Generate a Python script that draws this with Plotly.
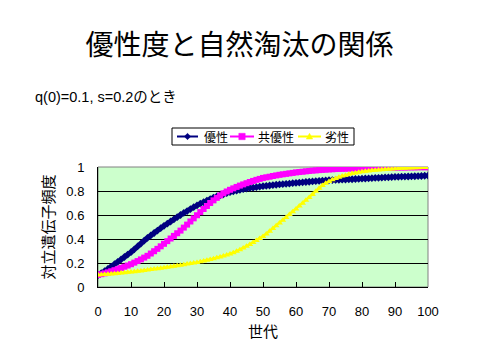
import plotly.graph_objects as go

generations = list(range(0, 101))

dominant = [
    0.100, 0.115, 0.132, 0.150, 0.170, 0.190, 0.210, 0.230, 0.250, 0.270,
    0.290, 0.314, 0.338, 0.362, 0.386, 0.410, 0.430, 0.450, 0.470, 0.490,
    0.510, 0.528, 0.546, 0.564, 0.582, 0.600, 0.617, 0.633, 0.649, 0.665,
    0.680, 0.694, 0.707, 0.720, 0.733, 0.745, 0.755, 0.764, 0.773, 0.782,
    0.790, 0.797, 0.803, 0.809, 0.815, 0.820, 0.824, 0.828, 0.832, 0.836,
    0.840, 0.843, 0.846, 0.849, 0.852, 0.855, 0.857, 0.860, 0.862, 0.865,
    0.867, 0.870, 0.872, 0.875, 0.877, 0.880, 0.882, 0.884, 0.886, 0.888,
    0.890, 0.891, 0.892, 0.893, 0.894, 0.895, 0.897, 0.898, 0.900, 0.901,
    0.903, 0.904, 0.906, 0.907, 0.909, 0.910, 0.911, 0.913, 0.914, 0.916,
    0.917, 0.918, 0.919, 0.920, 0.921, 0.922, 0.923, 0.924, 0.925, 0.927,
    0.928,
]

codominant = [
    0.100, 0.107, 0.114, 0.122, 0.131, 0.140, 0.149, 0.159, 0.169, 0.179,
    0.190, 0.203, 0.216, 0.230, 0.245, 0.260, 0.279, 0.298, 0.318, 0.339,
    0.360, 0.382, 0.404, 0.426, 0.448, 0.470, 0.495, 0.520, 0.546, 0.572,
    0.598, 0.624, 0.650, 0.675, 0.700, 0.722, 0.743, 0.763, 0.781, 0.796,
    0.810, 0.822, 0.834, 0.845, 0.855, 0.865, 0.875, 0.884, 0.893, 0.901,
    0.909, 0.914, 0.919, 0.925, 0.930, 0.935, 0.939, 0.943, 0.947, 0.951,
    0.955, 0.958, 0.961, 0.964, 0.967, 0.970, 0.972, 0.974, 0.976, 0.978,
    0.980, 0.981, 0.983, 0.984, 0.985, 0.986, 0.987, 0.988, 0.989, 0.989,
    0.990, 0.991, 0.991, 0.992, 0.992, 0.993, 0.993, 0.994, 0.994, 0.995,
    0.995, 0.996, 0.996, 0.996, 0.997, 0.997, 0.997, 0.998, 0.998, 0.998,
    0.998,
]

recessive = [
    0.100, 0.102, 0.104, 0.106, 0.108, 0.111, 0.113, 0.116, 0.119, 0.122,
    0.125, 0.128, 0.131, 0.134, 0.138, 0.141, 0.145, 0.149, 0.152, 0.156,
    0.160, 0.164, 0.168, 0.172, 0.177, 0.181, 0.186, 0.191, 0.195, 0.200,
    0.205, 0.211, 0.217, 0.223, 0.229, 0.236, 0.243, 0.251, 0.259, 0.267,
    0.275, 0.286, 0.298, 0.311, 0.325, 0.340, 0.355, 0.371, 0.387, 0.404,
    0.421, 0.442, 0.464, 0.487, 0.510, 0.533, 0.557, 0.580, 0.604, 0.627,
    0.650, 0.674, 0.698, 0.722, 0.746, 0.770, 0.797, 0.823, 0.845, 0.864,
    0.880, 0.893, 0.905, 0.915, 0.924, 0.932, 0.939, 0.945, 0.951, 0.956,
    0.960, 0.964, 0.967, 0.970, 0.973, 0.976, 0.978, 0.980, 0.982, 0.984,
    0.986, 0.988, 0.989, 0.990, 0.991, 0.992, 0.993, 0.994, 0.995, 0.996,
    0.997,
]

series_names = ["優性", "共優性", "劣性"]
x_ticks = [0, 10, 20, 30, 40, 50, 60, 70, 80, 90, 100]
y_ticks = [0, 0.2, 0.4, 0.6, 0.8, 1]
y_tick_labels = ["0", "0.2", "0.4", "0.6", "0.8", "1"]

FONT = "Liberation Sans, Noto Sans CJK JP, sans-serif"
CJK = "Noto Sans CJK JP, sans-serif"

W, H = 479, 360
ML, MR, MT, MB = 98, 51, 167, 73
PW, PH = W - ML - MR, H - MT - MB


def px_x(px):
    return (px - ML) / PW


def px_y(py):
    return (H - MB - py) / PH


fig = go.Figure()
styles = [
    ("#000080", "diamond", 6),
    ("#FF00FF", "square", 6),
    ("#FFFF00", "triangle-up", 6),
]
for name, vals, (col, sym, sz) in zip(series_names, [dominant, codominant, recessive], styles):
    fig.add_trace(go.Scatter(
        x=generations, y=vals, name=name, mode="lines+markers",
        line=dict(color=col, width=2),
        marker=dict(color=col, symbol=sym, size=sz, line=dict(width=0)),
        showlegend=False,
    ))

# custom compact legend (Excel-like)
shapes = [
    dict(type="rect", xref="paper", yref="paper", x0=0, x1=1, y0=0, y1=1,
         line=dict(color="#808080", width=1), layer="below"),
    dict(type="rect", xref="paper", yref="paper",
         x0=px_x(172), x1=px_x(354), y0=px_y(145), y1=px_y(128),
         line=dict(color="black", width=1), fillcolor="white"),
]
legend_items = [
    # (line x0, line x1, marker cx, text x)
    (177, 198, 187.5, 202),
    (230, 254, 242, 256),
    (298, 321, 309.5, 323),
]
ly = 136.5
annotations = []
for name, (col, sym, _), (lx0, lx1, mcx, tx) in zip(series_names, styles, legend_items):
    shapes.append(dict(type="line", xref="paper", yref="paper",
                       x0=px_x(lx0), x1=px_x(lx1), y0=px_y(ly), y1=px_y(ly),
                       line=dict(color=col, width=2)))
    r = 3.2
    if sym == "diamond":
        pts = [(mcx, ly - r), (mcx + r, ly), (mcx, ly + r), (mcx - r, ly)]
    elif sym == "square":
        pts = [(mcx - r, ly - r), (mcx + r, ly - r), (mcx + r, ly + r), (mcx - r, ly + r)]
    else:
        pts = [(mcx, ly - r), (mcx + r, ly + r * 0.8), (mcx - r, ly + r * 0.8)]
    path = "M " + " L ".join(f"{px_x(a):.5f},{px_y(b):.5f}" for a, b in pts) + " Z"
    shapes.append(dict(type="path", xref="paper", yref="paper", path=path,
                       fillcolor=col, line=dict(color=col, width=0.5)))
    annotations.append(dict(text=name, xref="paper", yref="paper",
                            x=px_x(tx), y=px_y(ly), xanchor="left", yanchor="middle",
                            showarrow=False, font=dict(family=CJK, size=12)))

annotations.append(dict(text="q(0)=0.1, s=0.2のとき", xref="paper", yref="paper",
                        x=px_x(33), y=px_y(97), xanchor="left", yanchor="middle",
                        showarrow=False, font=dict(family=FONT, size=14.5)))

fig.update_layout(
    width=W, height=H,
    margin=dict(l=ML, r=MR, t=MT, b=MB, autoexpand=False),
    paper_bgcolor="white", plot_bgcolor="#CCFFCC",
    font=dict(family=FONT, size=13, color="black"),
    title=dict(text="優性度と自然淘汰の関係", x=0.5, xref="container", xanchor="center",
               y=1 - 45 / H, yref="container", yanchor="middle",
               font=dict(family=CJK, size=28, color="black")),
    showlegend=False,
    annotations=annotations,
    shapes=shapes,
)

fig.update_xaxes(
    range=[0, 100], tickvals=x_ticks, ticks="inside", ticklen=5, tickcolor="black",
    showgrid=False, zeroline=False, showline=True, linecolor="black", linewidth=1,
    ticklabelstandoff=12, tickfont=dict(size=13), automargin=False,
    title=dict(text="世代", font=dict(family=CJK, size=15), standoff=8),
)
fig.update_yaxes(
    range=[0, 1], tickvals=y_ticks, ticktext=y_tick_labels, ticks="",
    showgrid=True, gridcolor="black", gridwidth=1, zeroline=False,
    showline=True, linecolor="black", linewidth=1, automargin=False,
    ticklabelstandoff=10, tickfont=dict(size=13),
    title=dict(text="対立遺伝子頻度", font=dict(family=CJK, size=15), standoff=8),
)

fig.write_html("out.html", config={"displayModeBar": False},
               post_script="document.body.style.margin='0px';")
